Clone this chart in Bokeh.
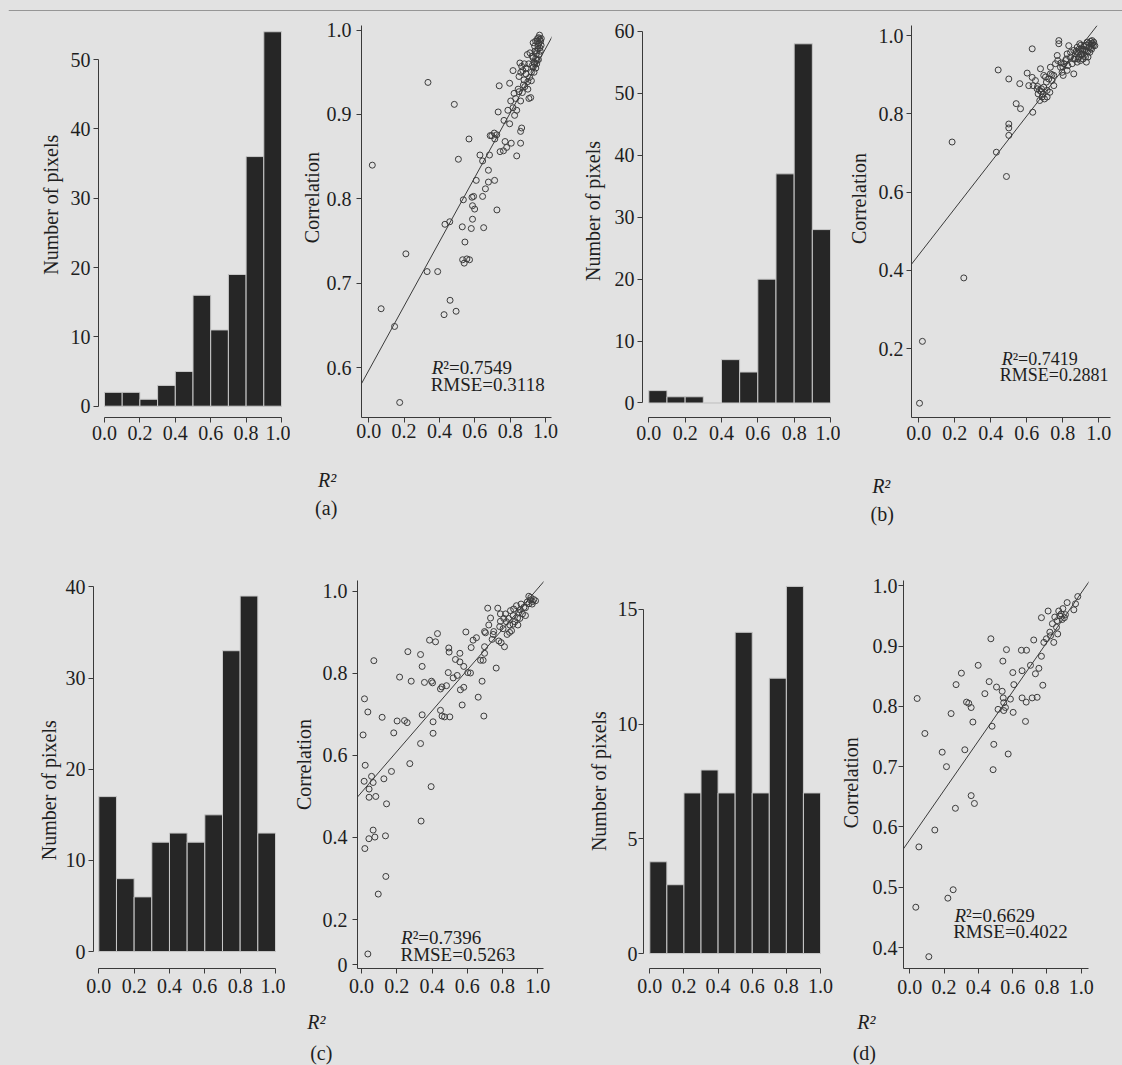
import math
from bokeh.plotting import figure
from bokeh.models import (Range1d, FixedTicker, PrintfTickFormatter,
                          CustomJSTickFormatter, Label, Slope, Span)
from bokeh.layouts import column, row
from bokeh.embed import file_html
from bokeh.resources import INLINE

BG = "#e2e2e2"
INK = "#1e1e1e"
AXC = "#3a3a3a"
BAR = "#262626"
PT = "#3c3c3c"
FONT = "Liberation Serif"

# ---------------- data ----------------
R2_BINS = [0.0, 0.1, 0.2, 0.3, 0.4, 0.5, 0.6, 0.7, 0.8, 0.9]
BIN_WIDTH = 0.1
HIST_A = [2, 2, 1, 3, 5, 16, 11, 19, 36, 54]
HIST_B = [2, 1, 1, 0, 7, 5, 20, 37, 58, 28]
HIST_C = [17, 8, 6, 12, 13, 12, 15, 33, 39, 13]
HIST_D = [4, 3, 7, 8, 7, 14, 7, 12, 16, 7]

R2_TICKS = [0.0, 0.2, 0.4, 0.6, 0.8, 1.0]
COUNT_TICKS_A = [0, 10, 20, 30, 40, 50]
COUNT_TICKS_B = [0, 10, 20, 30, 40, 50, 60]
COUNT_TICKS_C = [0, 10, 20, 30, 40]
COUNT_TICKS_D = [0, 5, 10, 15]
CORR_TICKS_A = [0.6, 0.7, 0.8, 0.9, 1.0]
CORR_TICKS_B = [0.2, 0.4, 0.6, 0.8, 1.0]
CORR_TICKS_C = [0.09, 0.2, 0.4, 0.6, 0.8, 1.0]   # lowest tick is printed "0"
CORR_TICKS_D = [0.4, 0.5, 0.6, 0.7, 0.8, 0.9, 1.0]

# (R2, correlation) per pixel
SCAT_A = [(0.02,0.84),(0.07,0.67),(0.146,0.649),(0.175,0.559),(0.21,0.735),(0.335,0.938),
    (0.33,0.714),(0.39,0.714),(0.431,0.77),(0.458,0.773),(0.46,0.68),(0.426,0.663),(0.494,0.667),
    (0.484,0.912),(0.507,0.847),(0.529,0.767),(0.535,0.799),(0.544,0.749),(0.531,0.728),(0.54,0.724),
    (0.555,0.729),(0.57,0.728),(0.567,0.871),(0.58,0.765),(0.587,0.776),(0.587,0.792),(0.593,0.803),
    (0.599,0.788),(0.608,0.822),(0.584,0.802),(0.629,0.852),(0.644,0.845),(0.644,0.803),(0.65,0.766),
    (0.66,0.812),(0.677,0.82),(0.677,0.834),(0.683,0.852),(0.687,0.875),(0.696,0.875),(0.71,0.878),
    (0.713,0.871),(0.724,0.876),(0.712,0.822),(0.725,0.787),(0.732,0.903),(0.738,0.934),(0.743,0.856),
    (0.762,0.857),(0.765,0.893),(0.771,0.868),(0.78,0.861),(0.787,0.905),(0.797,0.889),(0.803,0.916),
    (0.797,0.937),(0.806,0.866),(0.816,0.952),(0.816,0.908),(0.822,0.925),(0.825,0.899),(0.831,0.919),
    (0.837,0.905),(0.837,0.851),(0.85,0.945),(0.855,0.961),(0.865,0.957),(0.872,0.952),(0.859,0.88),
    (0.865,0.884),(0.859,0.866),(0.859,0.916),(0.85,0.927),(0.878,0.941),(0.883,0.933),(0.869,0.926),
    (0.906,0.919),(0.916,0.92),(0.9,0.939),(0.91,0.944),(0.897,0.971),(0.912,0.973),(0.925,0.969),
    (0.92,0.95),(0.93,0.956),(0.938,0.96),(0.944,0.966),(0.95,0.975),(0.957,0.981),(0.963,0.985),
    (0.953,0.987),(0.968,0.979),(0.972,0.987),(0.961,0.991),(0.968,0.989),(0.944,0.987),(0.938,0.981),
    (0.93,0.967),(0.953,0.964),(0.963,0.971),(0.958,0.978),(0.948,0.972),(0.935,0.962),(0.925,0.958),
    (0.89,0.948),(0.88,0.96),(0.9,0.93),(0.975,0.982),(0.966,0.994),(0.945,0.955),
    (0.94,0.975),(0.955,0.99),(0.97,0.975),(0.95,0.96),(0.96,0.965),(0.935,0.95),(0.92,0.94),
    (0.905,0.96),(0.89,0.955),(0.875,0.935),(0.86,0.95),(0.845,0.93),(0.93,0.985),(0.96,0.983),
    (0.976,0.99)]

SCAT_B = [(0.004,0.061),(0.02,0.219),(0.185,0.728),(0.25,0.381),(0.431,0.702),(0.441,0.912),
    (0.487,0.64),(0.5,0.889),(0.5,0.774),(0.5,0.764),(0.5,0.745),(0.541,0.826),(0.561,0.877),
    (0.565,0.813),(0.602,0.904),(0.63,0.966),(0.633,0.804),(0.611,0.872),(0.63,0.893),(0.635,0.872),
    (0.648,0.885),(0.657,0.864),(0.67,0.86),(0.68,0.857),(0.681,0.864),(0.672,0.834),(0.685,0.843),
    (0.698,0.838),(0.713,0.843),(0.676,0.915),(0.694,0.898),(0.704,0.894),(0.722,0.889),(0.731,0.919),
    (0.709,0.881),(0.731,0.902),(0.74,0.885),(0.75,0.872),(0.75,0.898),(0.759,0.928),(0.769,0.949),
    (0.778,0.979),(0.778,0.987),(0.772,0.936),(0.787,0.919),(0.796,0.906),(0.802,0.898),(0.815,0.936),
    (0.824,0.953),(0.833,0.974),(0.828,0.923),(0.843,0.945),(0.852,0.928),(0.861,0.902),(0.861,0.962),
    (0.87,0.953),(0.88,0.97),(0.883,0.957),(0.889,0.945),(0.894,0.979),(0.902,0.966),(0.907,0.953),
    (0.913,0.94),(0.917,0.974),(0.922,0.962),(0.926,0.945),(0.931,0.932),(0.935,0.983),(0.944,0.97),
    (0.95,0.957),(0.957,0.979),(0.963,0.987),(0.972,0.983),(0.978,0.974),(0.898,0.936),(0.88,0.932),
    (0.861,0.94),(0.843,0.957),(0.824,0.911),(0.806,0.928),(0.713,0.86),(0.728,0.855),(0.694,0.868),
    (0.663,0.851),(0.91,0.96),(0.92,0.95),(0.94,0.96),(0.955,0.968),(0.93,0.975),(0.96,0.975),
    (0.87,0.94),(0.89,0.965),(0.9,0.95),(0.915,0.965),(0.93,0.96),(0.945,0.98),(0.96,0.965),
    (0.97,0.975),(0.885,0.94),(0.875,0.96),(0.9,0.975),(0.94,0.945),(0.955,0.985),(0.965,0.98),
    (0.82,0.94),(0.8,0.92),(0.79,0.93),(0.74,0.9),(0.69,0.85),(0.66,0.87)]

SCAT_C = [(0.036,0.116),(0.019,0.373),(0.042,0.397),(0.076,0.401),(0.066,0.418),(0.095,0.262),
    (0.138,0.305),(0.136,0.404),(0.142,0.482),(0.043,0.498),(0.081,0.5),(0.043,0.518),(0.066,0.534),
    (0.057,0.549),(0.015,0.537),(0.021,0.576),(0.009,0.65),(0.017,0.738),(0.036,0.706),(0.07,0.831),
    (0.117,0.693),(0.127,0.543),(0.17,0.561),(0.183,0.655),(0.202,0.684),(0.216,0.791),(0.244,0.685),
    (0.259,0.68),(0.263,0.853),(0.274,0.58),(0.282,0.781),(0.335,0.846),(0.344,0.817),(0.357,0.778),
    (0.335,0.629),(0.344,0.699),(0.338,0.44),(0.386,0.881),(0.397,0.781),(0.403,0.777),(0.395,0.524),
    (0.406,0.654),(0.406,0.682),(0.42,0.877),(0.431,0.897),(0.448,0.762),(0.456,0.767),(0.448,0.71),
    (0.457,0.696),(0.471,0.694),(0.501,0.694),(0.482,0.77),(0.492,0.802),(0.495,0.862),(0.497,0.852),
    (0.52,0.789),(0.533,0.834),(0.543,0.795),(0.558,0.849),(0.558,0.828),(0.561,0.76),(0.571,0.723),
    (0.58,0.766),(0.58,0.817),(0.592,0.901),(0.603,0.802),(0.618,0.801),(0.622,0.863),(0.633,0.881),
    (0.652,0.887),(0.662,0.742),(0.675,0.832),(0.684,0.781),(0.69,0.832),(0.694,0.696),(0.698,0.849),
    (0.698,0.865),(0.698,0.902),(0.703,0.899),(0.716,0.959),(0.722,0.918),(0.732,0.935),(0.741,0.883),
    (0.747,0.895),(0.75,0.902),(0.764,0.813),(0.773,0.959),(0.779,0.879),(0.784,0.914),(0.788,0.927),
    (0.792,0.875),(0.811,0.865),(0.803,0.909),(0.817,0.945),(0.822,0.926),(0.826,0.895),(0.834,0.934),
    (0.841,0.918),(0.845,0.953),(0.851,0.904),(0.86,0.941),(0.863,0.957),(0.87,0.926),(0.879,0.965),
    (0.887,0.918),(0.892,0.949),(0.898,0.934),(0.905,0.969),(0.913,0.945),(0.921,0.961),(0.93,0.941),
    (0.94,0.974),(0.949,0.988),(0.958,0.979),(0.968,0.969),(0.977,0.98),(0.987,0.977),(0.807,0.934),
    (0.788,0.945),(0.93,0.96),(0.95,0.97),(0.9,0.955),(0.885,0.935),(0.86,0.92),(0.84,0.9),
    (0.96,0.985),(0.97,0.975)]

SCAT_D = [(0.043,0.813),(0.053,0.567),(0.035,0.467),(0.088,0.755),(0.111,0.385),(0.146,0.595),
    (0.189,0.724),(0.214,0.7),(0.222,0.482),(0.241,0.788),(0.253,0.496),(0.266,0.631),(0.27,0.836),
    (0.301,0.855),(0.321,0.728),(0.331,0.807),(0.344,0.805),(0.358,0.798),(0.358,0.652),(0.377,0.639),
    (0.368,0.774),(0.399,0.868),(0.438,0.821),(0.463,0.841),(0.473,0.912),(0.48,0.767),(0.49,0.737),
    (0.486,0.695),(0.506,0.832),(0.515,0.795),(0.539,0.825),(0.548,0.806),(0.545,0.814),(0.543,0.875),
    (0.548,0.793),(0.558,0.798),(0.564,0.894),(0.574,0.721),(0.587,0.812),(0.601,0.856),(0.603,0.79),
    (0.607,0.836),(0.651,0.893),(0.681,0.893),(0.655,0.859),(0.655,0.814),(0.675,0.775),(0.679,0.807),
    (0.704,0.868),(0.714,0.814),(0.723,0.91),(0.733,0.854),(0.743,0.815),(0.753,0.863),(0.768,0.883),
    (0.776,0.835),(0.768,0.947),(0.782,0.906),(0.797,0.912),(0.807,0.958),(0.817,0.923),(0.821,0.917),
    (0.832,0.937),(0.84,0.906),(0.846,0.948),(0.856,0.931),(0.863,0.92),(0.869,0.958),(0.875,0.95),
    (0.883,0.953),(0.893,0.962),(0.902,0.947),(0.908,0.952),(0.918,0.972),(0.957,0.96),(0.967,0.97),
    (0.98,0.982),(0.889,0.944),(0.86,0.942)]

# fitted lines: (slope, intercept)
FIT_A = (0.381, 0.597)
FIT_B = (0.591, 0.440)
FIT_C = (0.497, 0.510)
FIT_D = (0.409, 0.579)
# statistics: (R2, RMSE)
STATS_A = ("0.7549", "0.3118")
STATS_B = ("0.7419", "0.2881")
STATS_C = ("0.7396", "0.5263")
STATS_D = ("0.6629", "0.4022")
PANEL_TAGS = ["(a)", "(b)", "(c)", "(d)"]
Y_HIST_LABEL = "Number of pixels"
Y_SCAT_LABEL = "Correlation"
X_LABEL = "R²"


# ---------------- helpers ----------------
def base_fig(w, h, xr, yr, mbl=0, mbr=0, mbt=0, mbb=0, axes=True):
    kw = {} if axes else dict(x_axis_type=None, y_axis_type=None)
    p = figure(width=w, height=h, x_range=xr, y_range=yr,
               min_border_left=mbl, min_border_right=mbr,
               min_border_top=mbt, min_border_bottom=mbb,
               output_backend="svg", toolbar_location=None, title=None, **kw)
    p.background_fill_color = None
    p.border_fill_color = BG
    p.outline_line_color = None
    p.grid.visible = False
    return p


def make_fig(gx, gy, w, h, frame, xa, ya):
    L, R, T, B = frame
    mbl = int(round(L - gx)); mbr = int(round(gx + w - R))
    mbt = int(round(T - gy)); mbb = int(round(gy + h - B))
    L2, R2, T2, B2 = gx + mbl, gx + w - mbr, gy + mbt, gy + h - mbb
    kx = (xa[1][1] - xa[0][1]) / (xa[1][0] - xa[0][0])
    ky = (ya[1][1] - ya[0][1]) / (ya[1][0] - ya[0][0])
    fx = lambda px: xa[0][1] + (px - xa[0][0]) * kx
    fy = lambda py: ya[0][1] + (py - ya[0][0]) * ky
    return base_fig(w, h, Range1d(fx(L2), fx(R2)), Range1d(fy(B2), fy(T2)),
                    mbl, mbr, mbt, mbb)


def style_axes(p, xticks, yticks, xbounds, ybounds, xstand, ystand, xfmt, yfmt):
    for ax in (p.xaxis[0], p.yaxis[0]):
        ax.axis_line_color = AXC
        ax.axis_line_width = 1
        ax.major_tick_line_color = AXC
        ax.major_tick_out = 5
        ax.major_tick_in = 0
        ax.minor_tick_line_color = None
        ax.major_label_text_font = FONT
        ax.major_label_text_font_size = "20px"
        ax.major_label_text_color = INK
    xa, ya = p.xaxis[0], p.yaxis[0]
    xa.ticker = FixedTicker(ticks=xticks)
    ya.ticker = FixedTicker(ticks=yticks)
    xa.formatter = xfmt
    ya.formatter = yfmt
    xa.bounds = xbounds
    ya.bounds = ybounds
    xa.major_label_standoff = xstand
    ya.major_label_standoff = ystand


def text(p, x, y, s, angle=0.0, italic=False, align="center", size="20px"):
    p.add_layout(Label(x=x, y=y, text=s, angle=angle, text_font=FONT,
                       text_font_size=size,
                       text_font_style="italic" if italic else "normal",
                       text_color=INK, text_align=align, text_baseline="middle"))


def text_fig(gx, gy, w, h, items):
    # a blank panel whose data units are page pixels; it only carries text
    p = base_fig(w, h, Range1d(gx, gx + w), Range1d(gy + h, gy), axes=False)
    for it in items:
        text(p, *it)
    return p


def hist_panel(spec, counts, yticks, xstand, ystand):
    p = make_fig(*spec)
    centers = [b + BIN_WIDTH / 2 for b in R2_BINS]
    p.vbar(x=centers, width=BIN_WIDTH, top=counts, bottom=0,
           fill_color=BAR, line_color="#c9c9c9", line_width=1)
    style_axes(p, R2_TICKS, yticks, (0, 1), (yticks[0], yticks[-1]), xstand, ystand,
               PrintfTickFormatter(format="%.1f"), PrintfTickFormatter(format="%d"))
    return p


def scat_panel(spec, pts, fit, stats, yticks, yfmt, xstand, ystand,
               r2_pos, rmse_pos, size="19px"):
    p = make_fig(*spec)
    xs = [a for a, b in pts]
    ys = [b for a, b in pts]
    p.add_layout(Slope(gradient=fit[0], y_intercept=fit[1], line_color=AXC, line_width=1))
    p.scatter(x=xs, y=ys, marker="circle", size=6, fill_color=None,
              line_color=PT, line_width=1)
    style_axes(p, R2_TICKS, yticks, "auto", "auto", xstand, ystand,
               PrintfTickFormatter(format="%.1f"), yfmt)
    text(p, r2_pos[0], r2_pos[1], "R", italic=True, align="right", size=size)
    text(p, r2_pos[0], r2_pos[1], "²=" + stats[0], align="left", size=size)
    text(p, rmse_pos[0], rmse_pos[1], "RMSE=" + stats[1], align="left", size=size)
    return p


f1 = PrintfTickFormatter(format="%.1f")
V = math.pi / 2

# ---------------- top rule ----------------
strip = base_fig(1122, 11, Range1d(0, 1), Range1d(0, 11), mbl=8, axes=False)
strip.add_layout(Span(location=1, dimension="width", line_color="#4a4a4a", line_width=2))

# ---------------- upper block (a), (b) ----------------
TOP, H1 = 11, 444
TA1 = text_fig(0, TOP, 64, H1, [(50, 214, Y_HIST_LABEL, V)])
A_hist = hist_panel((64, TOP, 226, H1, (98, 284, 25, 417), ((104, 0), (281, 1)), ((405.7, 0), (59, 50))),
                    HIST_A, COUNT_TICKS_A, 3, 3)
TA2 = text_fig(290, TOP, 33, H1, [(311, 206, Y_SCAT_LABEL, V)])
A_scat = scat_panel((323, TOP, 247, H1, (360, 551, 17, 421.7), ((367.3, 0), (545, 1)), ((370.7, 0.6), (21.7, 1.0))),
                    SCAT_A, FIT_A, STATS_A, CORR_TICKS_A, f1, 1, 5, (0.4215, 0.6), (0.35, 0.58))
TB1 = text_fig(570, TOP, 38, H1, [(592, 221, Y_HIST_LABEL, V)])
B_hist = hist_panel((608, TOP, 232, H1, (641.7, 832, 20, 417.3), ((648.3, 0), (830, 1)), ((402.3, 0), (26, 60))),
                    HIST_B, COUNT_TICKS_B, 3, 3)
TB2 = text_fig(840, TOP, 32, H1, [(858, 207, Y_SCAT_LABEL, V)])
B_scat = scat_panel((872, TOP, 250, H1, (911, 1110, 25, 417.3), ((918.3, 0), (1098.3, 1)), ((348.3, 0.2), (35, 1.0))),
                    SCAT_B, FIT_B, STATS_B, CORR_TICKS_B, f1, 3, 3, (0.5217, 0.175), (0.45, 0.132), size="18px")

TS1 = text_fig(0, 455, 1122, 85, [(321, 479, X_LABEL, 0.0, True), (320, 507, PANEL_TAGS[0]),
                                  (879, 485, X_LABEL, 0.0, True), (880, 513, PANEL_TAGS[1])])

# ---------------- lower block (c), (d) ----------------
TOP2, H2 = 540, 468
TC1 = text_fig(0, TOP2, 62, H2, [(48, 793, Y_HIST_LABEL, V)])
C_hist = hist_panel((62, TOP2, 223, H2, (93.3, 277, 565, 970.7), ((98.3, 0), (275, 1)), ((953.3, 0), (571.7, 40))),
                    HIST_C, COUNT_TICKS_C, 5, 3)
TC2 = text_fig(285, TOP2, 33, H2, [(303, 762, Y_SCAT_LABEL, V)])
C_scat = scat_panel((318, TOP2, 252, H2, (357.3, 543, 567, 970.7), ((361, 0), (537.3, 1)), ((920, 0.2), (578.3, 1.0))),
                    SCAT_C, FIT_C, STATS_C, CORR_TICKS_C,
                    CustomJSTickFormatter(code="return tick < 0.15 ? '0' : tick.toFixed(1);"), 5, 5,
                    (0.29, 0.155), (0.221, 0.114))
TD1 = text_fig(570, TOP2, 43, H2, [(598, 782, Y_HIST_LABEL, V)])
D_hist = hist_panel((613, TOP2, 222, H2, (642.7, 822, 580, 970), ((649.3, 0), (820, 1)), ((955, 0), (609, 15))),
                    HIST_D, COUNT_TICKS_D, 5, 1)
TD2 = text_fig(835, TOP2, 31, H2, [(850, 784, Y_SCAT_LABEL, V)])
D_scat = scat_panel((866, TOP2, 256, H2, (902.7, 1088, 572, 968.3), ((909.3, 0), (1080.7, 1)), ((946.7, 0.4), (577.3, 1.0))),
                    SCAT_D, FIT_D, STATS_D, CORR_TICKS_D, f1, 6, 1, (0.328, 0.4526), (0.253, 0.426))

TS2 = text_fig(0, 1008, 1122, 57, [(310, 1021, X_LABEL, 0.0, True), (315, 1052, PANEL_TAGS[2]),
                                   (864, 1021, X_LABEL, 0.0, True), (862, 1052, PANEL_TAGS[3])])

bgs = {"background-color": BG}
layout = column(strip,
                row(TA1, A_hist, TA2, A_scat, TB1, B_hist, TB2, B_scat, styles=bgs),
                TS1,
                row(TC1, C_hist, TC2, C_scat, TD1, D_hist, TD2, D_scat, styles=bgs),
                TS2, styles=bgs)

open("out.html", "w").write(file_html(layout, INLINE))
